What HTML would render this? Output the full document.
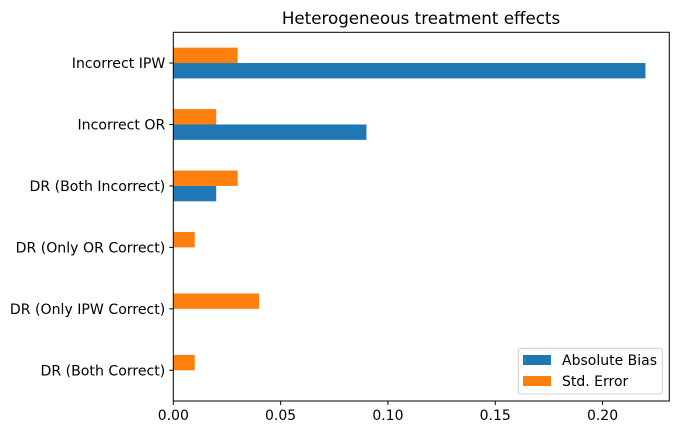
<!DOCTYPE html>
<html><head><meta charset="utf-8"><style>
body{margin:0;background:#fff;font-family:"DejaVu Sans","Liberation Sans",sans-serif}
svg text{font-family:"DejaVu Sans","Liberation Sans",sans-serif}
</style></head><body>
<svg id="chart" width="678" height="435" xmlns="http://www.w3.org/2000/svg">
<rect width="678" height="435" fill="#fff"/>
<text x="421" y="24" font-size="16.7" text-anchor="middle">Heterogeneous treatment effects</text>
<g id="marks"></g>
<rect x="173.3" y="32.3" width="496" height="368.7" fill="none" stroke="#000" stroke-width="1"/>
<g id="axes"></g>
<g>
<rect x="518.3" y="348.3" width="144" height="45.7" rx="2.5" fill="#fff" fill-opacity="0.8" stroke="#ccc"/>
<rect x="523" y="355" width="28" height="10" fill="#1f77b4"/>
<text x="562" y="365" font-size="14">Absolute Bias</text>
<rect x="523" y="376" width="28" height="10" fill="#ff7f0e"/>
<text x="562" y="386" font-size="14">Std. Error</text>
</g>
</svg>
<script>
const categories=["DR (Both Correct)","DR (Only IPW Correct)","DR (Only OR Correct)","DR (Both Incorrect)","Incorrect OR","Incorrect IPW"];
const absBias=[0,0,0,0.02,0.09,0.22];
const stdError=[0.01,0.04,0.01,0.03,0.02,0.03];
const xTicks=[0,0.05,0.10,0.15,0.20];
const xTickLabels=["0.00","0.05","0.10","0.15","0.20"];
const NS="http://www.w3.org/2000/svg";
const L=173.3,R=669.3,T=32.3,B=401,xMax=0.2311;
const x=v=>L+v/xMax*(R-L);
const y=i=>B-(i+0.5)*(B-T)/categories.length;
const bw=0.25*(B-T)/categories.length;
const marks=document.getElementById('marks'),axes=document.getElementById('axes');
function mk(tag,attrs,parent){const e=document.createElementNS(NS,tag);for(const k in attrs)e.setAttribute(k,attrs[k]);parent.appendChild(e);return e;}
categories.forEach((c,i)=>{
 const b=mk('rect',{x:L,y:y(i),width:x(absBias[i])-L,height:bw,fill:'#1f77b4'},marks);
 
 
 const s=mk('rect',{x:L,y:y(i)-bw,width:x(stdError[i])-L,height:bw,fill:'#ff7f0e'},marks);
 
 
 const tk=mk('line',{x1:L-4,x2:L,y1:y(i),y2:y(i),stroke:'#000'},axes);
 
 
 const t=mk('text',{x:L-8,y:y(i)+5,'font-size':'14.1','text-anchor':'end'},axes);
 t.textContent=c;
 
 
});
xTicks.forEach((v,i)=>{
 const tk=mk('line',{x1:x(v),x2:x(v),y1:B,y2:B+4,stroke:'#000'},axes);
 
 
 const t=mk('text',{x:x(v),y:B+19,'font-size':'14','text-anchor':'middle'},axes);
 t.textContent=xTickLabels[i];
 
 
});
</script>
</body></html>
